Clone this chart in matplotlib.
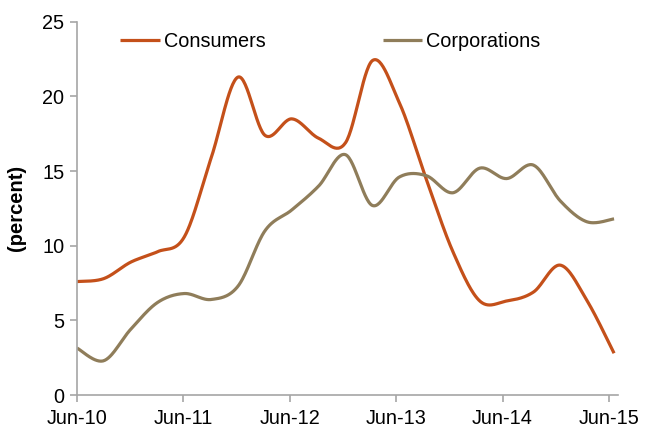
import numpy as np
import matplotlib
matplotlib.use("Agg")
import matplotlib.pyplot as plt

# quarterly observations, Jun-10 .. Jun-15
quarters = ["Jun-10", "Sep-10", "Dec-10", "Mar-11", "Jun-11", "Sep-11", "Dec-11",
            "Mar-12", "Jun-12", "Sep-12", "Dec-12", "Mar-13", "Jun-13", "Sep-13",
            "Dec-13", "Mar-14", "Jun-14", "Sep-14", "Dec-14", "Mar-15", "Jun-15"]
consumers = [7.6, 7.8, 8.9, 9.6, 10.6, 15.9, 21.3, 17.4, 18.5, 17.2, 16.9,
             22.4, 19.6, 14.5, 9.6, 6.3, 6.3, 6.9, 8.7, 6.3, 2.8]
corporations = [3.15, 2.3, 4.4, 6.2, 6.8, 6.4, 7.3, 11.0, 12.4, 14.0, 16.1,
                12.7, 14.6, 14.7, 13.55, 15.2, 14.5, 15.4, 13.0, 11.6, 11.8]
tick_labels = ["Jun-10", "Jun-11", "Jun-12", "Jun-13", "Jun-14", "Jun-15"]
yticks = [0, 5, 10, 15, 20, 25]

plt.rcParams['font.family'] = ['Liberation Sans', 'DejaVu Sans']


def smooth(x, y, n=30):
    """Catmull-Rom rendering of a smoothed line (like a spreadsheet smoothed line)."""
    p = np.column_stack([x, y]).astype(float)
    p = np.vstack([p[0], p, p[-1]])
    out = []
    t = np.linspace(0, 1, n, endpoint=False)
    for i in range(1, len(p) - 2):
        p0, p1, p2, p3 = p[i - 1], p[i], p[i + 1], p[i + 2]
        c1 = p1 + (p2 - p0) / 6.0
        c2 = p2 - (p3 - p1) / 6.0
        tt = t[:, None]
        seg = ((1 - tt) ** 3) * p1 + 3 * ((1 - tt) ** 2) * tt * c1 + 3 * (1 - tt) * tt ** 2 * c2 + tt ** 3 * p2
        out.append(seg)
    out.append(p[-2][None, :])
    s = np.vstack(out)
    return s[:, 0], s[:, 1]


fig = plt.figure(figsize=(6.52, 4.28), dpi=100)
ax = fig.add_axes([0.118, 0.077, 0.830, 0.872])

xi = np.arange(len(quarters))
c_col = "#C4501A"
k_col = "#8F7D5A"
sx, sy = smooth(xi, consumers)
ax.plot(sx, sy, color=c_col, lw=2.3, label="Consumers", solid_capstyle="butt")
sx, sy = smooth(xi, corporations)
ax.plot(sx, sy, color=k_col, lw=2.3, label="Corporations", solid_capstyle="butt")

ax.set_ylim(0, 25)
ax.set_xlim(0, 20.15)
ax.set_yticks(yticks)
ax.set_yticklabels([str(v) for v in yticks])
ax.set_xticks([k * 4 * 0.9905 for k in range(len(tick_labels))])
ax.set_xticklabels(tick_labels)

for s in ["top", "right"]:
    ax.spines[s].set_visible(False)
for s in ["left", "bottom"]:
    ax.spines[s].set_color("#A6A6A6")
    ax.spines[s].set_linewidth(1.2)
ax.tick_params(axis="both", colors="#A6A6A6", length=5, width=1.2, direction="out",
               labelsize=14.3, labelcolor="black")
ax.tick_params(axis="x", pad=5)
ax.tick_params(axis="y", pad=4)

ax.set_ylabel("(percent)", fontsize=14.5, fontweight="bold", labelpad=12)

leg = ax.legend(loc="upper left", bbox_to_anchor=(0.065, 0.995), ncol=2, frameon=False,
                fontsize=14.3, handlelength=2.0, handletextpad=0.2, columnspacing=5.9,
                borderaxespad=0)

fig.savefig("out.png", dpi=100)
